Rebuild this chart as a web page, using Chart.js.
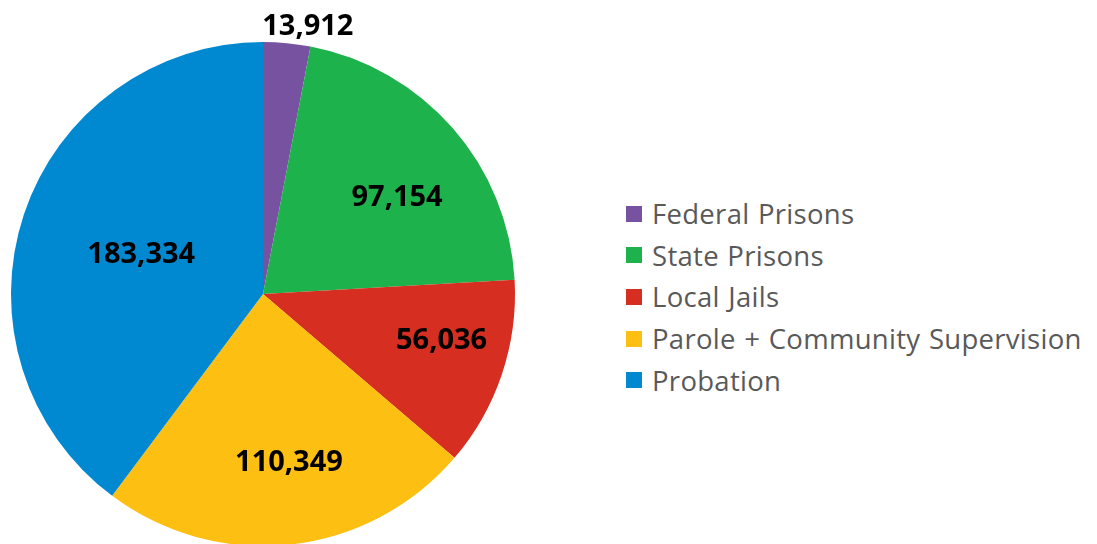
<!DOCTYPE html>
<html>
<head>
<meta charset="utf-8">
<script src="https://cdn.jsdelivr.net/npm/chart.js@4"></script>
<style>
    html, body { margin: 0; padding: 0; background: #fff; overflow: hidden; }
    body { width: 1097px; height: 544px; position: relative; }
    #pieBox { position: absolute; left: 0; top: 0; width: 526px; height: 588px; }
    #legend { position: absolute; left: 626px; top: 193px; font-family: "Open Sans", sans-serif; font-size: 27.5px; letter-spacing: 0.3px; word-spacing: 1px; color: #595959; }
    .legend-item { display: flex; align-items: center; height: 41.6px; white-space: nowrap; }
    .legend-box { width: 16px; height: 16px; margin-right: 10px; flex: none; }
</style>
</head>
<body>
<div id="pieBox"><canvas id="pieChart"></canvas></div>
<div id="legend"></div>
<script>
// Dados
const categories = ['Federal Prisons', 'State Prisons', 'Local Jails', 'Parole + Community Supervision', 'Probation'];
const populationValues = [13912, 97154, 56036, 110349, 183334];
const sliceColors = ['#7652A0', '#1DB24B', '#D62E20', '#FDBF11', '#0089D0'];

// Posição dos rótulos (fração do raio e ajuste de ângulo em graus)
const labelRadius = [1.085, 0.66, 0.73, 0.67, 0.51];
const labelAngleShift = [4.0, 4.9, -4.8, -2.5, 0.3];

const valueLabels = {
    id: 'valueLabels',
    afterDatasetsDraw(chart) {
        const ctx = chart.ctx;
        const meta = chart.getDatasetMeta(0);
        ctx.save();
        ctx.font = 'bold 29px "Open Sans", sans-serif';
        ctx.fillStyle = '#000';
        ctx.textAlign = 'center';
        ctx.textBaseline = 'alphabetic';
        meta.data.forEach((arc, i) => {
            const p = arc.getProps(['x', 'y', 'startAngle', 'endAngle', 'outerRadius'], true);
            const a = (p.startAngle + p.endAngle) / 2 + labelAngleShift[i] * Math.PI / 180;
            const r = p.outerRadius * labelRadius[i];
            const x = p.x + Math.cos(a) * r;
            const y = p.y + Math.sin(a) * r;
            const text = chart.data.datasets[0].data[i].toLocaleString('en-US');
            ctx.fillText(text, x, y + 10.5);
        });
        ctx.restore();
    }
};

const pieCtx = document.getElementById('pieChart').getContext('2d');
window.pieChart = new Chart(pieCtx, {
    type: 'pie',
    data: {
        labels: categories,
        datasets: [{
            data: populationValues,
            backgroundColor: sliceColors,
            borderWidth: 0,
            hoverOffset: 0
        }]
    },
    options: {
        responsive: true,
        maintainAspectRatio: false,
        animation: false,
        radius: 252,
        layout: { padding: { top: 42, bottom: 42, left: 0, right: 0 } },
        plugins: {
            legend: { display: false },
            tooltip: { enabled: false }
        }
    },
    plugins: [valueLabels]
});

// Legenda
const legendEl = document.getElementById('legend');
legendEl.innerHTML = categories.map((name, i) => `
    <div class="legend-item">
        <span class="legend-box" style="background:${sliceColors[i]}"></span>
        <span>${name}</span>
    </div>`).join('');
</script>
</body>
</html>
